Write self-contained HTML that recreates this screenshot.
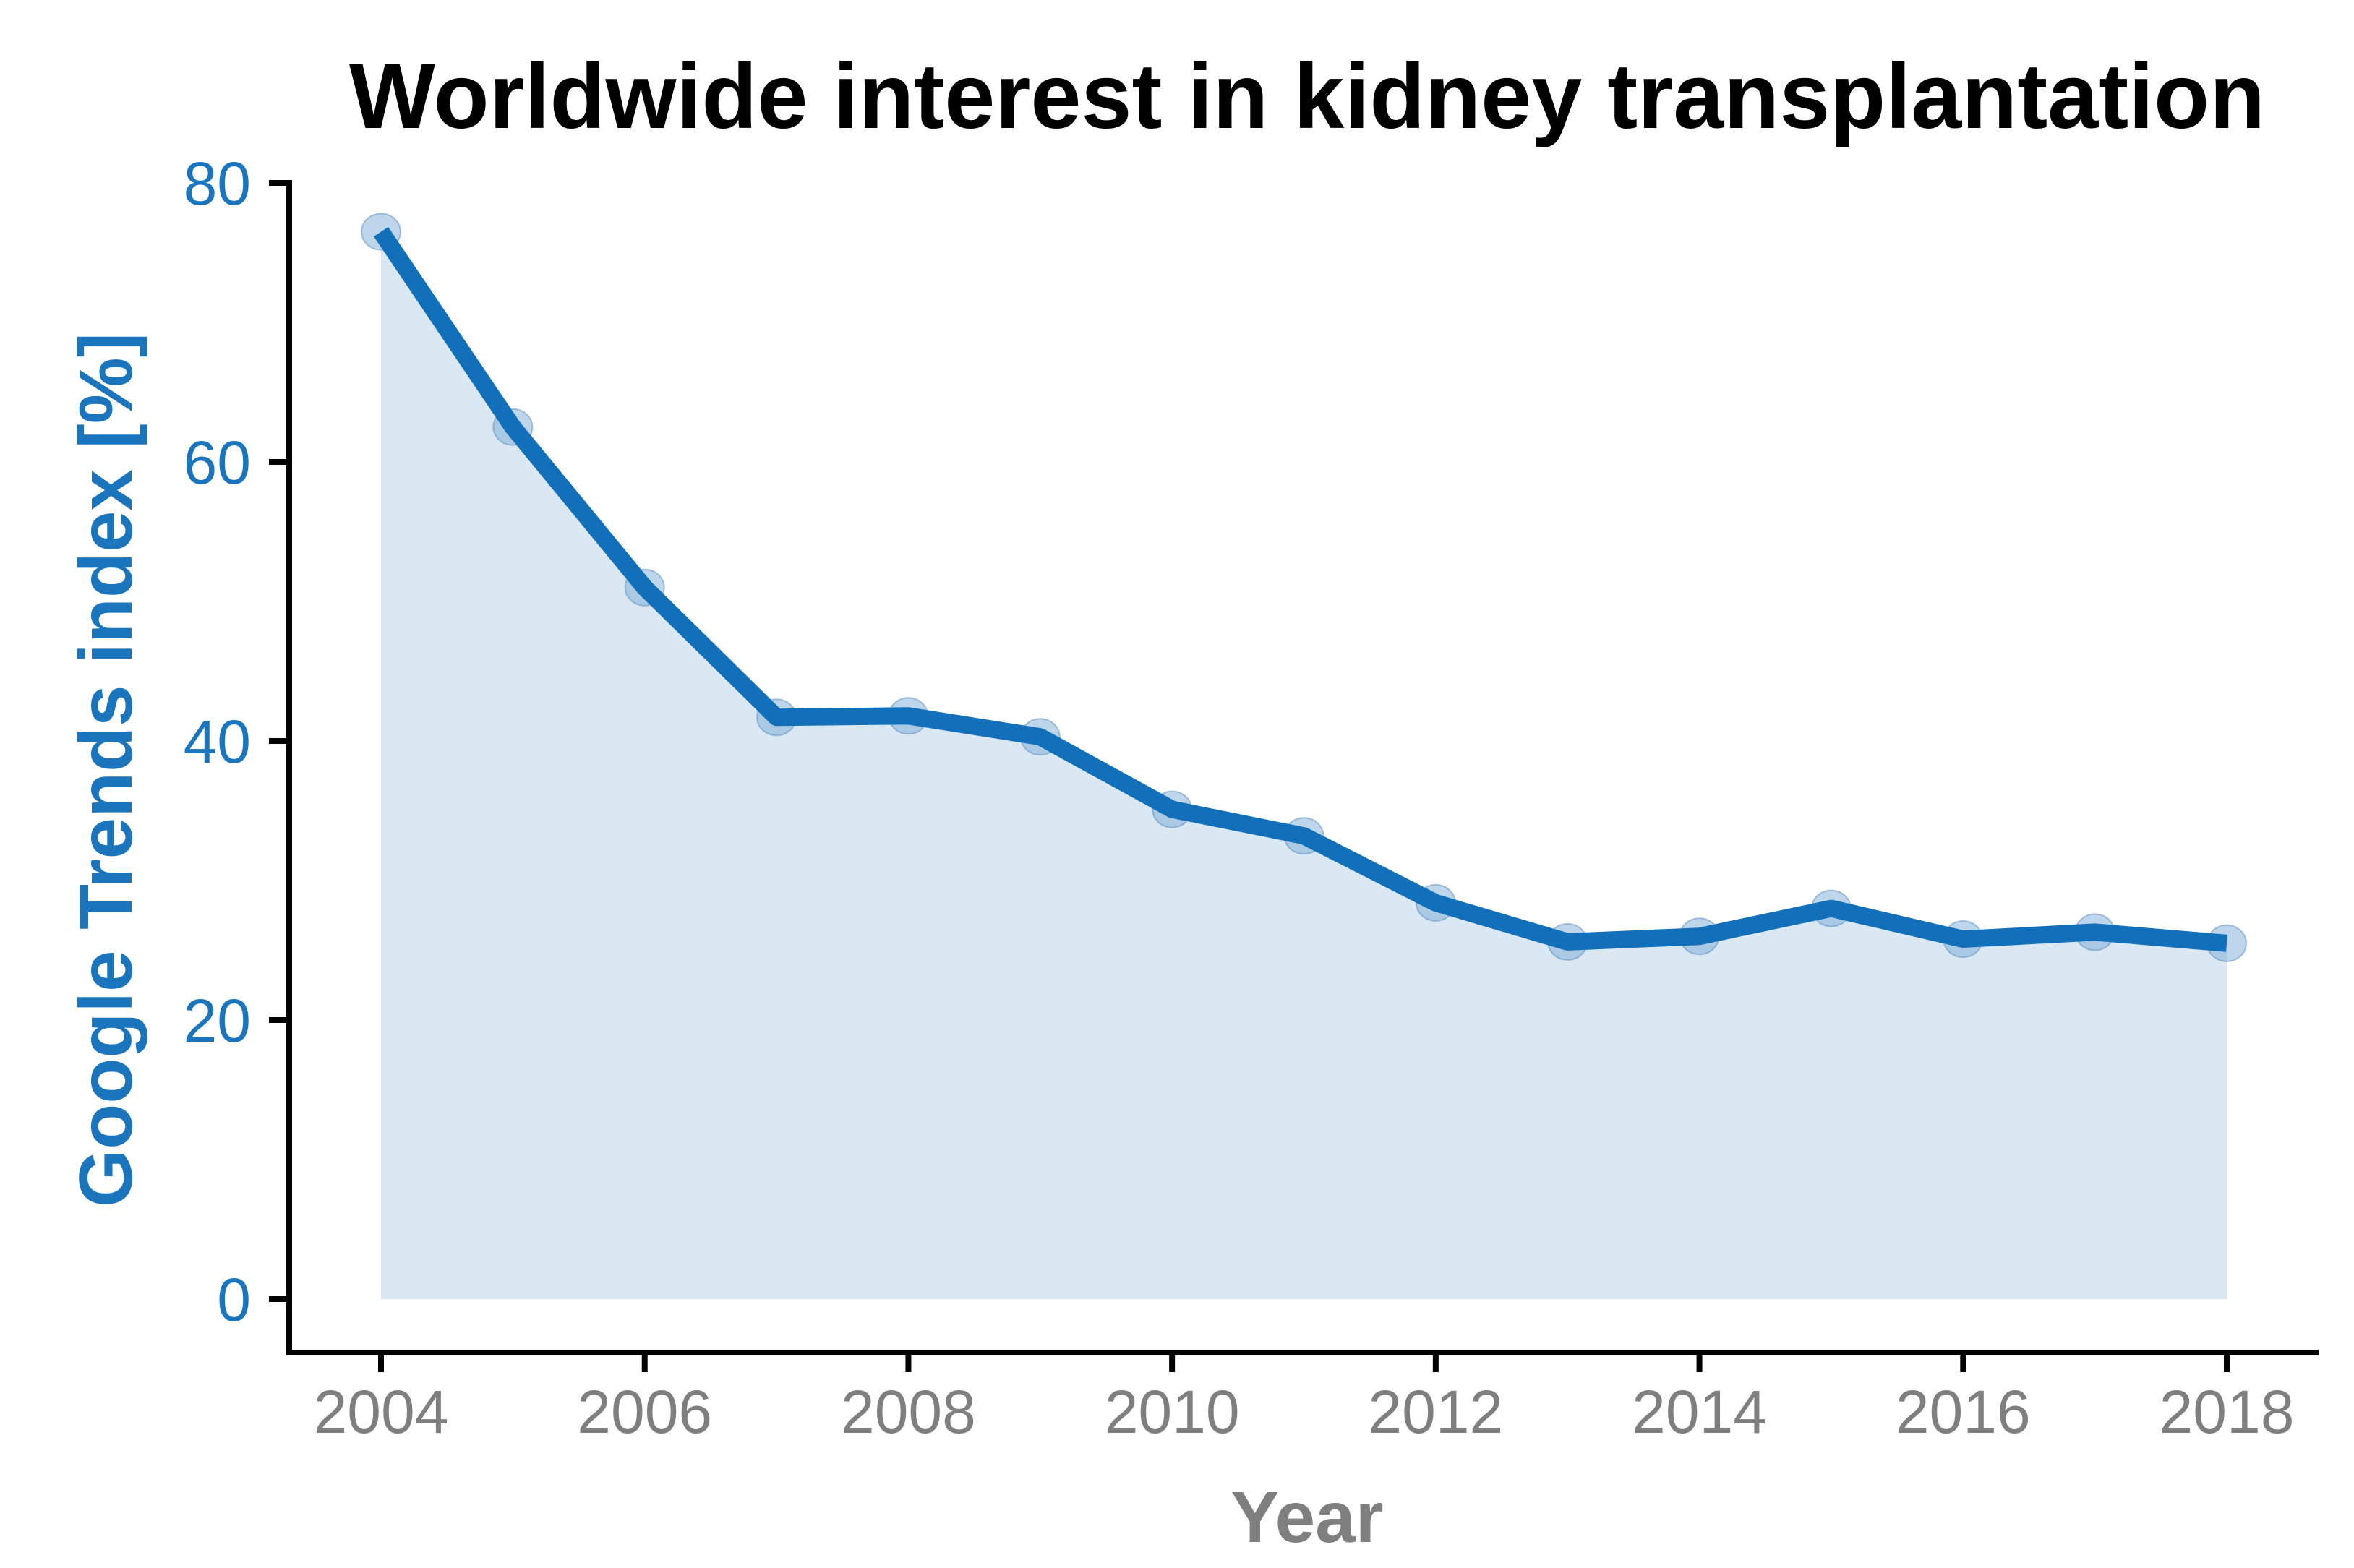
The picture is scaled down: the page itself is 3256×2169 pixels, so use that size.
<!DOCTYPE html>
<html><head><meta charset="utf-8"><style>html,body{margin:0;padding:0;background:#fff;}svg{display:block;}</style></head>
<body>
<svg id="chart" width="3256" height="2169" xmlns="http://www.w3.org/2000/svg" font-family="Liberation Sans, Arial, sans-serif">
<rect width="3256" height="2169" fill="#fff"/>
<text x="1808" y="177" font-size="128" font-weight="bold" text-anchor="middle" textLength="2650" lengthAdjust="spacingAndGlyphs" fill="#000">Worldwide interest in kidney transplantation</text>
<text transform="translate(182,1065) rotate(-90)" font-size="104" font-weight="bold" text-anchor="middle" textLength="1210" lengthAdjust="spacingAndGlyphs" fill="#1a75bc">Google Trends index [%]</text>
<text x="1808" y="2133" font-size="100" font-weight="bold" text-anchor="middle" fill="#7f7f7f">Year</text>
<g id="plot"></g>
</svg>
<script>
const years = [2004,2005,2006,2007,2008,2009,2010,2011,2012,2013,2014,2015,2016,2017,2018];
const values = [76.5,62.5,51,41.7,41.8,40.3,35.1,33.2,28.4,25.6,26,28,25.8,26.3,25.5];
const yTicks = [0,20,40,60,80];
const xTicks = [2004,2006,2008,2010,2012,2014,2016,2018];

const NS = 'http://www.w3.org/2000/svg';
const g = document.getElementById('plot');
function xs(v){ return 527 + (v - 2004) * (3080 - 527) / 14; }
function ys(v){ return 1797 - v * (1797 - 253) / 80; }
function mk(tag, attrs){ const e = document.createElementNS(NS, tag); for (const k in attrs) e.setAttribute(k, attrs[k]); g.appendChild(e); return e; }

let d = 'M' + xs(years[0]) + ',' + ys(0);
years.forEach((y,i)=>{ d += ' L' + xs(y) + ',' + ys(values[i]); });
d += ' L' + xs(years[years.length-1]) + ',' + ys(0) + ' Z';
const area = mk('path', {d: d, fill: '#d9e8f3'});



years.forEach((y,i)=>{
  const c = mk('ellipse', {cx: xs(y), cy: ys(values[i]), rx: 27, ry: 25, fill: 'rgba(110,165,210,0.45)', stroke: 'rgba(90,140,190,0.5)', 'stroke-width': 2});
  
  
});

const pts = years.map((y,i)=> xs(y) + ',' + ys(values[i])).join(' ');
const line = mk('polyline', {points: pts, fill: 'none', stroke: '#1170b9', 'stroke-width': 24, 'stroke-linejoin': 'round'});



const ya = mk('line', {x1: 400, y1: 249, x2: 400, y2: 1875, stroke: '#000', 'stroke-width': 8});


const xa = mk('line', {x1: 396, y1: 1871, x2: 3207, y2: 1871, stroke: '#000', 'stroke-width': 8});



yTicks.forEach(v=>{
  const t = mk('line', {x1: 372, y1: ys(v), x2: 400, y2: ys(v), stroke: '#000', 'stroke-width': 8});
  
  
  const l = mk('text', {x: 347, y: ys(v) + 30, 'font-size': 84, 'text-anchor': 'end', fill: '#1a75bc'});
  l.textContent = v;
  
  
});
xTicks.forEach(v=>{
  const t = mk('line', {x1: xs(v), y1: 1871, x2: xs(v), y2: 1898, stroke: '#000', 'stroke-width': 8});
  
  
  const l = mk('text', {x: xs(v), y: 1982, 'font-size': 84, 'text-anchor': 'middle', fill: '#7f7f7f'});
  l.textContent = v;
  
  
});
</script>
</body></html>
